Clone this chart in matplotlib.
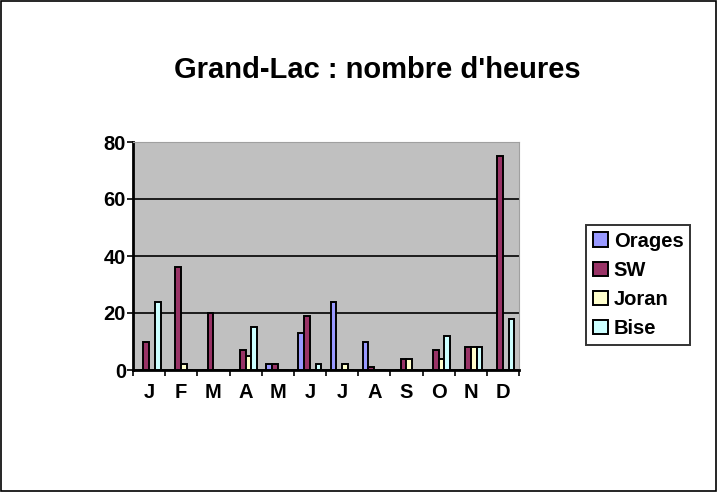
import numpy as np
import matplotlib
matplotlib.use("Agg")
import matplotlib.pyplot as plt
from matplotlib.patches import Rectangle

plt.rcParams["font.family"] = ["Liberation Sans", "DejaVu Sans"]
plt.rcParams["font.weight"] = "bold"

months = ["J", "F", "M", "A", "M", "J", "J", "A", "S", "O", "N", "D"]
orages = [0, 0, 0, 0, 2, 13, 24, 10, 0, 0, 0, 0]
sw = [10, 36, 20, 7, 2, 19, 0, 1, 4, 7, 8, 75]
joran = [0, 2, 0, 5, 0, 0, 2, 0, 4, 4, 8, 0]
bise = [24, 0, 0, 15, 0, 2, 0, 0, 0, 12, 8, 18]

series = [
    ("Orages", orages, "#9999FF"),
    ("SW", sw, "#993366"),
    ("Joran", joran, "#FFFFCC"),
    ("Bise", bise, "#CCFFFF"),
]

fig = plt.figure(figsize=(7.18, 4.92), dpi=100)
fig.patches.append(Rectangle((0.002, 0.003), 0.995, 0.994, transform=fig.transFigure,
                             fill=False, edgecolor="black", linewidth=1.2))

# plot area in pixels: left 133, right 519, top 142, bottom 370
W, H = 718, 492
ax = fig.add_axes([133 / W, 1 - 370 / H, (519 - 133) / W, (370 - 142) / H])
ax.set_facecolor("#C0C0C0")

x = np.arange(len(months))
bw = 0.18
for i, (name, vals, col) in enumerate(series):
    ax.bar(x + (i - 1.5) * bw, vals, bw, color=col, edgecolor="black",
           linewidth=1.4, label=name, zorder=3)

ax.set_xlim(-0.5, len(months) - 0.5)
ax.set_ylim(0, 80)
ax.set_yticks([0, 20, 40, 60, 80])
ax.yaxis.grid(True, color="black", linewidth=1.2, zorder=1)
ax.set_axisbelow(True)

ax.set_xticks(x)
ax.set_xticklabels(months, fontsize=14.5, fontweight="bold")
ax.set_xticks(np.arange(-0.5, len(months), 1), minor=True)
ax.tick_params(axis="x", which="major", length=0, pad=9)
ax.tick_params(axis="x", which="minor", length=4, width=1.2, direction="out")
ax.tick_params(axis="y", length=4, width=1.2, direction="out", labelsize=14.5, pad=1)
for lbl in ax.get_yticklabels():
    lbl.set_fontweight("bold")

ax.spines["left"].set_linewidth(2)
ax.spines["bottom"].set_linewidth(2)
ax.spines["top"].set_color("#A0A0A0")
ax.spines["right"].set_color("#A0A0A0")

fig.text(377 / W, 1 - 70 / H, "Grand-Lac : nombre d'heures", ha="center", va="center",
         fontsize=21, fontweight="bold")

leg = fig.legend(loc="center", bbox_to_anchor=(638 / W, 1 - 285 / H), frameon=True,
                 fancybox=False, edgecolor="black", fontsize=14.5,
                 handlelength=0.75, handleheight=0.75, handletextpad=0.3,
                 labelspacing=0.5, borderpad=0.35, borderaxespad=0)
leg.get_frame().set_linewidth(1.4)
for t in leg.get_texts():
    t.set_fontweight("bold")

fig.savefig("out.png", dpi=100)
